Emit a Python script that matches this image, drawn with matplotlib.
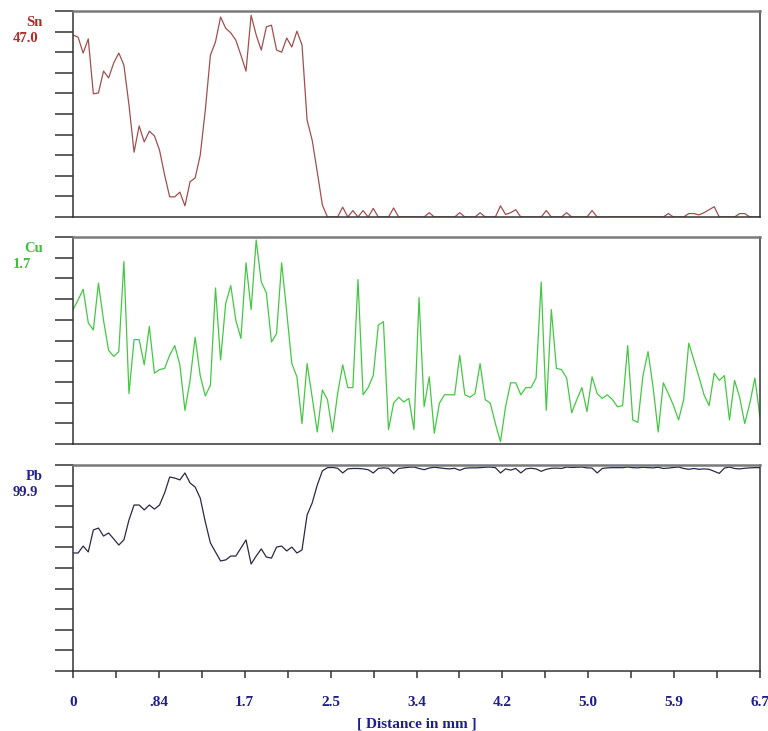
import numpy as np
import matplotlib
matplotlib.use("Agg")
import matplotlib.pyplot as plt
from matplotlib.ticker import FixedLocator, NullFormatter

# ---------------- data ----------------
scan_length_mm = 6.7
n_points = 136

sn = [42.4, 41.9, 38.2, 41.5, 28.7, 28.9, 34.0, 32.4, 35.9, 38.2,
      35.4, 26.1, 15.1, 21.2, 17.5, 20.0, 18.9, 15.6, 9.8, 4.7,
      4.7, 5.8, 2.6, 8.2, 9.1, 14.4, 24.9, 37.7, 40.8, 46.6,
      44.0, 42.9, 41.2, 37.7, 34.0, 47.0, 42.4, 38.9, 44.3, 44.7,
      38.9, 38.4, 41.7, 39.6, 43.3, 40.1, 22.6, 17.9, 10.5, 2.8,
      0.0, 0.0, 0.0, 2.3, 0.0, 1.5, 0.0, 1.5, 0.0, 2.0,
      0.0, 0.0, 0.0, 2.1, 0.0, 0.0, 0.0, 0.0, 0.0, 0.0,
      1.0, 0.0, 0.0, 0.0, 0.0, 0.0, 1.0, 0.0, 0.0, 0.0,
      1.0, 0.0, 0.0, 0.0, 2.6, 0.6, 1.0, 1.7, 0.0, 0.0,
      0.0, 0.0, 0.0, 1.5, 0.0, 0.0, 0.0, 1.0, 0.0, 0.0,
      0.0, 0.0, 1.5, 0.0, 0.0, 0.0, 0.0, 0.0, 0.0, 0.0,
      0.0, 0.0, 0.0, 0.0, 0.0, 0.0, 0.0, 0.8, 0.0, 0.0,
      0.0, 0.8, 0.8, 0.5, 1.0, 1.7, 2.4, 0.0, 0.0, 0.0,
      0.0, 0.8, 0.8, 0.0, 0.0, 0.0]

cu = [1.12, 1.20, 1.29, 1.01, 0.95, 1.34, 1.03, 0.78, 0.73, 0.77,
      1.52, 0.42, 0.87, 0.87, 0.66, 0.98, 0.59, 0.62, 0.63, 0.74,
      0.82, 0.66, 0.28, 0.53, 0.89, 0.57, 0.40, 0.49, 1.30, 0.70,
      1.17, 1.32, 1.03, 0.88, 1.51, 1.12, 1.70, 1.35, 1.26, 0.85,
      0.92, 1.51, 1.10, 0.67, 0.56, 0.17, 0.67, 0.39, 0.10, 0.45,
      0.37, 0.10, 0.42, 0.66, 0.47, 0.47, 1.37, 0.41, 0.47, 0.57,
      0.99, 1.02, 0.12, 0.34, 0.39, 0.35, 0.38, 0.12, 1.22, 0.31,
      0.56, 0.09, 0.34, 0.41, 0.41, 0.41, 0.74, 0.41, 0.39, 0.42,
      0.67, 0.37, 0.34, 0.17, 0.02, 0.31, 0.51, 0.51, 0.41, 0.47,
      0.47, 0.55, 1.35, 0.28, 1.12, 0.63, 0.62, 0.55, 0.26, 0.37,
      0.47, 0.27, 0.56, 0.42, 0.38, 0.41, 0.37, 0.31, 0.32, 0.82,
      0.20, 0.18, 0.57, 0.77, 0.47, 0.10, 0.51, 0.42, 0.32, 0.20,
      0.37, 0.84, 0.70, 0.56, 0.41, 0.32, 0.59, 0.53, 0.57, 0.20,
      0.53, 0.39, 0.17, 0.34, 0.55, 0.22]

pb = [57.8, 57.8, 61.2, 58.3, 69.1, 70.0, 66.1, 67.6, 64.7, 61.7,
      64.2, 74.0, 81.3, 81.3, 78.9, 81.3, 79.3, 81.3, 87.2, 95.0,
      94.5, 93.6, 97.0, 92.1, 90.1, 84.7, 73.0, 62.7, 58.3, 53.9,
      54.4, 56.3, 56.3, 60.2, 64.2, 52.4, 56.3, 59.8, 55.8, 55.3,
      60.7, 61.2, 58.8, 60.7, 57.8, 59.3, 76.4, 82.3, 91.1, 98.0,
      99.6, 99.7, 99.3, 97.0, 99.0, 99.2, 99.2, 99.0, 98.6, 97.0,
      99.2, 99.5, 99.3, 96.8, 99.2, 99.5, 99.8, 99.9, 99.2, 98.6,
      99.4, 99.8, 99.5, 99.2, 99.0, 99.3, 98.3, 99.3, 99.5, 99.5,
      99.6, 99.8, 99.9, 99.6, 97.0, 99.0, 98.4, 99.2, 97.0, 99.0,
      99.3, 99.0, 97.8, 98.8, 99.3, 99.4, 99.2, 99.9, 99.7, 99.8,
      99.9, 99.5, 99.4, 97.0, 99.2, 99.5, 99.6, 99.6, 99.6, 99.9,
      99.6, 99.5, 99.8, 99.6, 99.5, 99.8, 99.2, 99.4, 99.7, 99.9,
      99.2, 98.8, 99.2, 98.8, 99.0, 98.8, 97.8, 96.8, 99.4, 99.9,
      99.2, 99.0, 99.3, 99.5, 99.6, 99.6]

elements = ["Sn", "Cu", "Pb"]
max_labels = ["47.0", "1.7", "99.9"]
y_tops = [48.0, 1.725, 100.9]
tick_labels = ["0", ".84", "1.7", "2.5", "3.4", "4.2", "5.0", "5.9", "6.7"]
xlabel = "[ Distance in mm ]"

line_colors = ["#a0504e", "#44c844", "#2a2a48"]
label_colors = ["#b02a2a", "#3fbf3f", "#22228c"]
axis_text_color = "#1e1e8c"

# ---------------- figure ----------------
W, H = 768, 731
fig = plt.figure(figsize=(W / 100, H / 100), dpi=100)
fig.patch.set_facecolor("white")

font = dict(family=["Liberation Serif", "DejaVu Serif"], weight="bold")

x = np.linspace(0, scan_length_mm, n_points)
series = [sn, cu, pb]

left_px, right_px = 73, 760
panel_tb = [(11, 217), (237, 444), (465, 671)]

for k, (top, bot) in enumerate(panel_tb):
    ax = fig.add_axes([left_px / W, 1 - bot / H, (right_px - left_px) / W, (bot - top) / H])
    ax.plot(x, series[k], color=line_colors[k], lw=0.9)
    ax.set_xlim(0, scan_length_mm)
    ax.set_ylim(0, y_tops[k])

    # y ticks: 10 intervals, outward, no labels
    ax.yaxis.set_major_locator(FixedLocator(np.linspace(0, y_tops[k], 11)))
    ax.yaxis.set_major_formatter(NullFormatter())
    ax.tick_params(axis="y", direction="out", length=13, width=1.1, color="#333333")

    for side in ["left", "bottom", "right"]:
        ax.spines[side].set_color("#333333")
        ax.spines[side].set_linewidth(1.1)
    ax.spines["top"].set_color("#7a7a7a")
    ax.spines["top"].set_linewidth(1.8)

    if k < 2:
        ax.set_xticks([])
    else:
        majors = np.linspace(0, scan_length_mm, 9)
        ax.xaxis.set_major_locator(FixedLocator(majors))
        ax.xaxis.set_minor_locator(FixedLocator((majors[:-1] + majors[1:]) / 2))
        ax.set_xticklabels(tick_labels, color=axis_text_color, fontsize=11, **font)
        ax.xaxis.set_minor_formatter(NullFormatter())
        ax.tick_params(axis="x", which="both", direction="out", length=5, width=1.1,
                       color="#333333", pad=13)
        ax.set_xlabel(xlabel, color=axis_text_color, fontsize=11, labelpad=6, **font)

    # element name and max value labels
    fig.text(43 / W, 1 - (top + 11) / H, elements[k], ha="right", va="center",
             color=label_colors[k], fontsize=10.5, **font)
    fig.text(13 / W, 1 - (top + 28) / H, max_labels[k], ha="left", va="center",
             color=label_colors[k], fontsize=10.5, **font)

fig.savefig("out.png", dpi=100, facecolor="white")
